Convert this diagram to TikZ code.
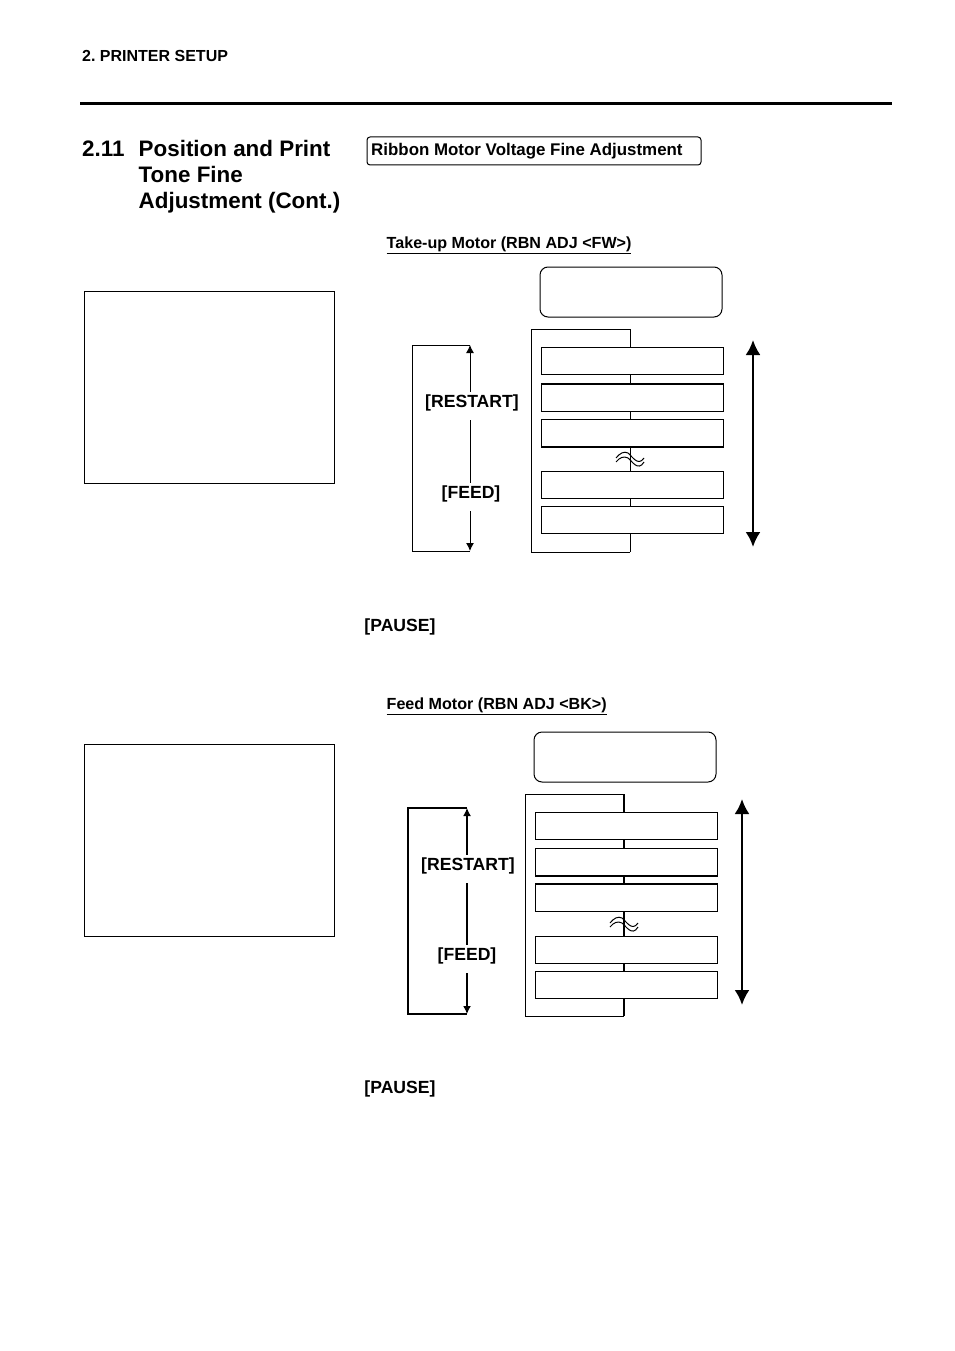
\documentclass[tikz,border=0pt]{standalone}
\usepackage{fontspec}
\setmainfont{Liberation Sans}
\usetikzlibrary{arrows.meta}
\tikzset{
	menubox/.style={draw, fill=white, line width=1pt, inner sep=0pt, minimum width=182pt, minimum height=27pt},
	dispbox/.style={draw, rounded corners=8pt, line width=1pt, inner sep=0pt, minimum width=182pt, minimum height=50pt},
	notebox/.style={draw, line width=1pt, inner sep=0pt, minimum width=250pt, minimum height=192pt},
	keylabel/.style={fill=white, font=\bfseries\fontsize{17.6}{19}\selectfont, inner xsep=1pt, inner ysep=0pt, anchor=base, text height=16pt, text depth=12pt},
	pauselabel/.style={font=\bfseries\fontsize{17.6}{19}\selectfont, inner sep=0pt},
	sublabel/.style={font=\bfseries\fontsize{16.1}{18}\selectfont, inner sep=0pt, anchor=base west},
	seclabel/.style={sublabel, font=\bfseries\fontsize{22.4}{26}\selectfont},
	smalltip/.style={-{Latex[length=8pt,width=8pt]}},
	bigtip/.style={{Latex[length=15pt,width=15pt]}-{Latex[length=15pt,width=15pt]}, line width=2.4pt}
}
\begin{document}
\frenchspacing
\begin{tikzpicture}[x=1pt,y=-1pt]
	\useasboundingbox (0,0) rectangle (954,1351);
	% page head
	\node [sublabel, font=\bfseries\fontsize{16}{18}\selectfont] (pagehead) at (82,61.5) {2. PRINTER SETUP};
	\coordinate (ruleL) at (80,103.5);
	\coordinate (ruleR) at (892,103.5);
	\draw [line width=3pt] (ruleL) -- (ruleR);
	\node [seclabel] (secnum) at (82,156.5) {2.11};
	\node [seclabel] (sec1) at (138.5,156.5) {Position and Print};
	\node [seclabel] (sec2) at (138.5,182.5) {Tone Fine};
	\node [seclabel] (sec3) at (138.5,208.5) {Adjustment (Cont.)};
	\node [draw, rounded corners=3pt, line width=1pt, minimum width=334pt, minimum height=28pt, inner sep=0pt] (titlebox) at (534,151) {};
	\node [sublabel, font=\bfseries\fontsize{16.9}{20}\selectfont] (title) at (371,155.5) {Ribbon Motor Voltage Fine Adjustment};

	% take-up motor
	\node [sublabel] (headA) at (386.5,248) {\underline{Take-up Motor (RBN ADJ <FW>)}};
	\node [notebox] (noteA) at (209,387) {};
	\node [dispbox] (dispA) at (631,292) {};
	\coordinate (topA) at (630,329);
	\coordinate (botA) at (630,552);
	\draw [line width=1pt] (topA) -- (531,329) -- (531,552) -- (botA);
	\draw [line width=1pt] (topA) -- (botA);
	\node [menubox] (a1) at (632.5,361) {};
	\node [menubox] (a2) at (632.5,397.5) {};
	\node [menubox] (a3) at (632.5,433) {};
	\node [menubox] (a4) at (632.5,485) {};
	\node [menubox] (a5) at (632.5,520) {};
	\draw [line width=1.6pt] (a2.north west) -- (a2.north east);
	\draw [line width=1.6pt] (a3.south west) -- (a3.south east);
	\draw [line width=1pt] (616,458) .. controls (620,453) and (624,451) .. (628,453) .. controls (632,456) and (638,467) .. (644,458);
	\draw [line width=1pt] (616,462) .. controls (620,457) and (624,456) .. (628,458) .. controls (632,461) and (638,472) .. (644,462);
	\coordinate (loopAt) at (470,345);
	\coordinate (loopAb) at (470,551);
	\draw [line width=1pt] (loopAt) -- (412,345) -- (412,551) -- (loopAb);
	\draw [smalltip, line width=1pt] (470,448) -- (loopAt);
	\draw [smalltip, line width=1pt] (470,448) -- (loopAb);
	\node [keylabel] (restartA) at (472,407.5) {[RESTART]};
	\node [keylabel] (feedA) at (471,498.5) {[FEED]};
	\coordinate (bigAt) at (753,340);
	\coordinate (bigAb) at (753,547);
	\draw [bigtip] (bigAt) -- (bigAb);
	\node [pauselabel] (pauseA) at (400,627) {[PAUSE]};

	% feed motor
	\node [sublabel] (headB) at (386.5,709) {\underline{Feed Motor (RBN ADJ <BK>)}};
	\node [notebox] (noteB) at (209,840) {};
	\node [dispbox] (dispB) at (625,757) {};
	\coordinate (topB) at (624,794);
	\coordinate (botB) at (624,1016);
	\draw [line width=1pt] (topB) -- (525,794) -- (525,1016) -- (botB);
	\draw [line width=1.5pt] (topB) -- (botB);
	\node [menubox] (b1) at (626.5,826) {};
	\node [menubox] (b2) at (626.5,862) {};
	\node [menubox] (b3) at (626.5,898) {};
	\node [menubox] (b4) at (626.5,950) {};
	\node [menubox] (b5) at (626.5,985) {};
	\draw [line width=1.6pt] (b2.south west) -- (b2.south east);
	\draw [line width=1.6pt] (b3.north west) -- (b3.north east);
	\draw [line width=1pt] (610,923) .. controls (614,918) and (618,916) .. (622,918) .. controls (626,921) and (632,932) .. (638,923);
	\draw [line width=1pt] (610,927) .. controls (614,922) and (618,921) .. (622,923) .. controls (626,926) and (632,937) .. (638,927);
	\coordinate (loopBt) at (467,808);
	\coordinate (loopBb) at (467,1014);
	\draw [line width=1.5pt] (loopBt) -- (408,808) -- (408,1014) -- (loopBb);
	\draw [smalltip, line width=1.5pt] (467,911) -- (loopBt);
	\draw [smalltip, line width=1.5pt] (467,911) -- (loopBb);
	\node [keylabel] (restartB) at (468,870.5) {[RESTART]};
	\node [keylabel] (feedB) at (467,960.5) {[FEED]};
	\coordinate (bigBt) at (742,799);
	\coordinate (bigBb) at (742,1005);
	\draw [bigtip] (bigBt) -- (bigBb);
	\node [pauselabel] (pauseB) at (400,1089) {[PAUSE]};
\end{tikzpicture}
\end{document}
